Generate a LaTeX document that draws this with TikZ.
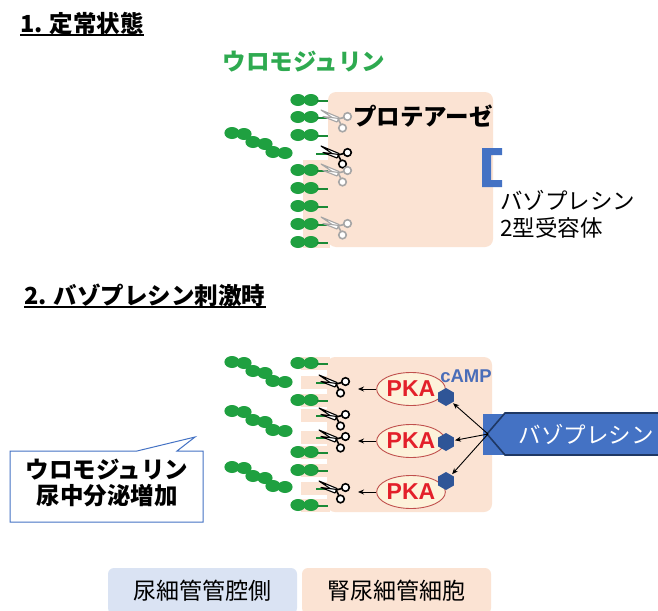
\documentclass[tikz,border=0pt]{standalone}
\usepackage{fontspec}
\setmainfont{Noto Sans CJK JP}
\newfontfamily\lat{Liberation Sans}
\usetikzlibrary{shapes.geometric,arrows.meta}
\newcommand\jfs[1]{\fontsize{#1}{#1}\selectfont}

\definecolor{peach}{HTML}{FBE3D3}
\definecolor{lumen}{HTML}{DAE3F3}
\definecolor{umod}{HTML}{1FA040}
\definecolor{umodtxt}{HTML}{2EAA50}
\definecolor{umodstem}{HTML}{1A8A36}
\definecolor{vpblue}{HTML}{4472C4}
\definecolor{navy}{HTML}{1F3864}
\definecolor{hexblue}{HTML}{2F5597}
\definecolor{pkafill}{HTML}{FDF2DA}
\definecolor{pkaline}{HTML}{C0504D}
\definecolor{pkatxt}{HTML}{E3202A}
\definecolor{campblue}{HTML}{4A6DB8}
\definecolor{idle}{HTML}{A6A6A6}

\tikzset{
  % uromodulin dimer anchored in the membrane (anchor = start of the stem)
  pics/umodpair/.style={code={
    \fill[umod] (-20,0) ellipse[x radius=7.6, y radius=6];
    \fill[umod] (-7,0) ellipse[x radius=7.6, y radius=6];
    \draw[umodstem, line width=2.8pt] (-1,1) -- (10,1);
  }},
  % stem left behind after cleavage
  pics/umodstub/.style={code={
    \draw[umodstem, line width=2.8pt] (-2,1) -- (11,1);
  }},
  % released uromodulin chain (anchor = last bead)
  pics/umodchain/.style={code={
    \foreach \dx/\dy in {-53/-20,-41/-19,-32/-11,-20/-9,-12/-1,0/0}
      \fill[umod] (\dx,\dy) ellipse[x radius=7.6, y radius=6];
  }},
  % protease drawn as a pair of scissors, blades pointing left
  pics/shears/.style={code={
    \begin{scope}[color=#1, line width=1.1pt, line join=round]
      \draw[fill=white] (-1,-4) -- (17,3.5) -- (14.5,6.5) -- cycle;
      \draw[fill=white] (1,2.5) -- (17,4.5) -- (15,8) -- cycle;
      \draw[line width=1.6pt] (16,5) -- (22,3.5) (16,5) -- (19,10.5);
      \draw[line width=1.6pt, fill=white] (25.5,2.5) circle[radius=3.8]
                                          (20.5,14) circle[radius=3.8];
    \end{scope}
  }}
}

\begin{document}
\begin{tikzpicture}[x=1pt,y=-1pt,
  heading/.style={font=\bfseries\jfs{23.5}, anchor=west, inner sep=0pt},
  plain/.style={font=\jfs{22.5}, inner sep=0pt},
  strong/.style={font=\bfseries\jfs{23.5}, inner sep=0pt},
  uline/.style={line width=1.9pt},
  cellbody/.style={fill=peach, rounded corners=8pt},
  villus/.style={fill=peach},
  pka/.style={ellipse, draw=pkaline, line width=0.9pt, fill=pkafill,
    minimum width=58pt, minimum height=33pt, inner sep=0pt,
    font=\lat\bfseries\jfs{23}, text=pkatxt},
  camp/.style={regular polygon, regular polygon sides=6, shape border rotate=30,
    fill=hexblue, minimum size=18pt, inner sep=0pt},
  arr/.style={-{Stealth[length=6pt,width=5pt]}, line width=0.9pt},
  keybox/.style={rounded corners=6pt, minimum width=189pt, minimum height=46pt,
    inner sep=0pt, font=\jfs{23}}
]
\useasboundingbox (0,0) rectangle (658,610);
\fill[white] (0,0) rectangle (658,610);

% ---------------- 1. steady state ----------------
\node[heading] (t1) at (20,24) {1. 定常状態};
\coordinate (u1) at (0,35);
\draw[uline] (t1.west |- u1) -- (t1.east |- u1);

\node[strong, text=umodtxt] (umodlabel) at (304,62) {ウロモジュリン};

\fill[cellbody] (328,92) rectangle (493,247);
\fill[villus] (303,160) rectangle (330,248);

\foreach \y in {100,117,135,170,188,206,224,242}
  \pic at (318,\y) {umodpair};
\pic at (318,153) {umodstub};
\pic at (285,153) {umodchain};

\pic at (322,114) {shears=idle};
\pic at (322,150) {shears=black};
\pic at (322,168) {shears=idle};
\pic at (322,221) {shears=idle};

\node[strong] (protease) at (423,116) {プロテアーゼ};

\fill[vpblue] (482,148) -- (502,148) -- (502,155) -- (491,155) -- (491,180)
  -- (502,180) -- (502,187) -- (482,187) -- cycle;
\node[plain, anchor=west] (v2r1) at (500,200) {バゾプレシン};
\node[plain, anchor=west] (v2r2) at (500,228) {2型受容体};

% ---------------- 2. vasopressin stimulation ----------------
\node[heading] (t2) at (24,295) {2. バゾプレシン刺激時};
\coordinate (u2) at (0,307);
\draw[uline] (t2.west |- u2) -- (t2.east |- u2);

\fill[cellbody] (327,357) rectangle (492,512);
\foreach \y in {363,382,400,415,437,452,470,488,505}
  \fill[villus] (301,\y-6.5) rectangle (330,\y+6.5);

\foreach \y in {363,400,452,470,505}
  \pic at (318,\y) {umodpair};
\foreach \y in {382,415,437,488}
  \pic at (318,\y) {umodstub};
\foreach \y in {382,431,487}
  \pic at (285,\y) {umodchain};

\pic at (320,379) {shears=black};
\pic at (320,412) {shears=black};
\pic at (320,434) {shears=black};
\pic at (320,485) {shears=black};

\node[pka] (p1) at (411,389) {PKA};
\node[pka] (p2) at (411,441) {PKA};
\node[pka] (p3) at (411,492) {PKA};

\node[camp] (h1) at (446,397) {};
\node[camp] (h2) at (446,442) {};
\node[camp] (h3) at (446,481) {};
\node[font=\lat\bfseries\jfs{18.5}, text=campblue, inner sep=0pt] (camplabel) at (466,376) {cAMP};

\coordinate (c1) at (358,389);
\coordinate (c2) at (358,441);
\coordinate (c3) at (358,492);
\draw[arr] (p1) -- (c1);
\draw[arr] (p2) -- (c2);
\draw[arr] (p3) -- (c3);

% vasopressin signal
\fill[vpblue] (483,414) rectangle (658,455);
\draw[navy, line width=1.6pt, fill=vpblue]
  (662,413) -- (505,413) -- (487,434) -- (505,455) -- (662,455);
\coordinate (vp) at (488,434);
\node[plain, text=white] (vplabel) at (586,434) {バゾプレシン};

\draw[arr, shorten >=1pt] (vp) -- (h1);
\draw[arr, shorten >=1pt] (vp) -- (h2);
\draw[arr, shorten >=1pt] (vp) -- (h3);

% callout
\draw[vpblue, line width=1pt, fill=white, line join=miter]
  (10,451) -- (137,451) -- (195,437) -- (177,451) -- (203,451)
  -- (203,522) -- (10,522) -- cycle;
\node[strong, align=center] (msg) at (107,483) {ウロモジュリン\\[3pt]尿中分泌増加};

% key
\node[keybox, fill=lumen] (lumenkey) at (202.5,591) {尿細管管腔側};
\node[keybox, fill=peach] (cellkey) at (396.5,591) {腎尿細管細胞};
\end{tikzpicture}
\end{document}
